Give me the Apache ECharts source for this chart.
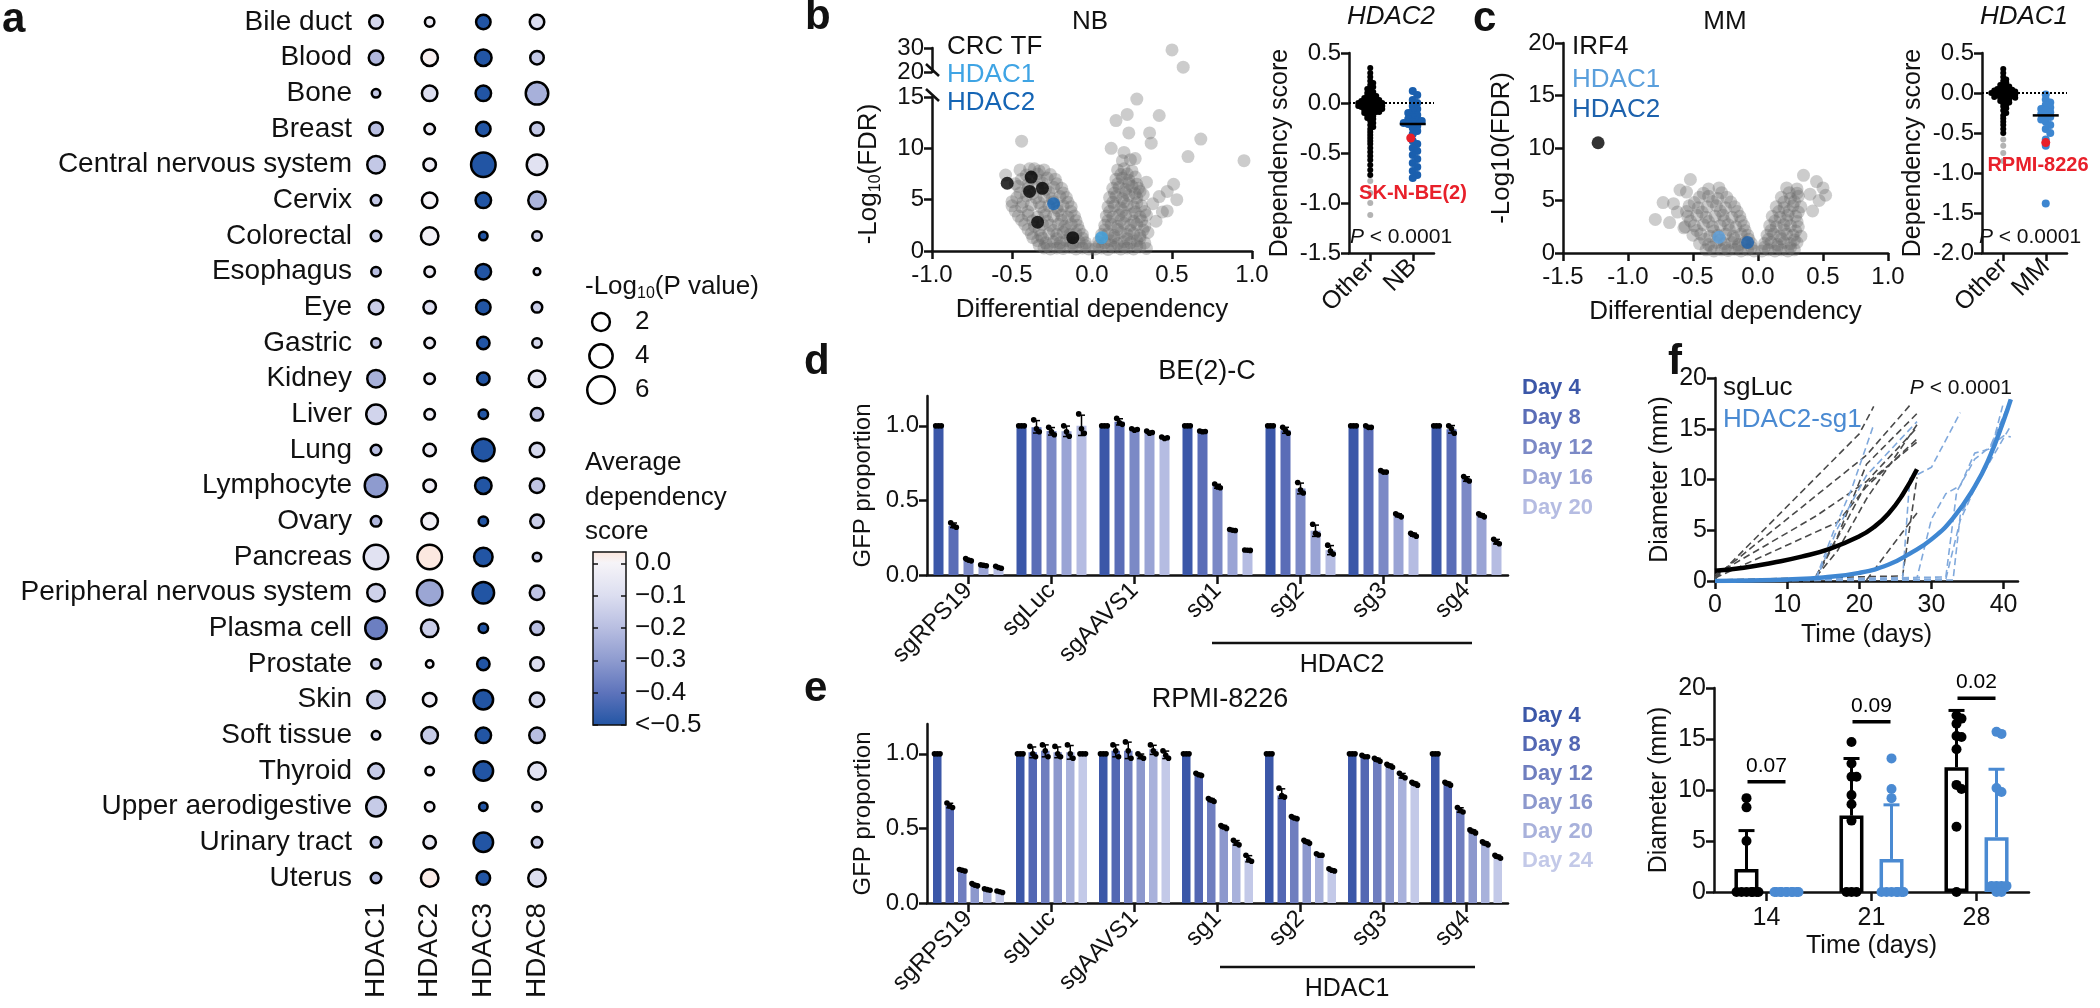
<!DOCTYPE html>
<html><head><meta charset="utf-8">
<script src="https://cdn.jsdelivr.net/npm/echarts@6/dist/echarts.min.js"></script>
<style>html,body{margin:0;padding:0;background:#fff}#c{width:2100px;height:1008px}</style>
</head><body><div id="c"></div>
<script>
// ================= DATA =================
// Panel a
const tissues = ['Bile duct','Blood','Bone','Breast','Central nervous system','Cervix','Colorectal','Esophagus','Eye','Gastric','Kidney','Liver','Lung','Lymphocyte','Ovary','Pancreas','Peripheral nervous system','Plasma cell','Prostate','Skin','Soft tissue','Thyroid','Upper aerodigestive','Urinary tract','Uterus'];
const genes = ['HDAC1','HDAC2','HDAC3','HDAC8'];
const negLogP = [
 [0.92,0.28,1.13,1.13],[1.13,1.63,1.63,0.92],[0.18,1.37,1.37,3.67],[0.92,0.41,1.13,0.92],
 [1.91,0.72,4.53,2.90],[0.41,1.37,1.37,1.91],[0.41,1.91,0.18,0.28],[0.28,0.41,1.37,0.05],
 [1.13,0.72,1.13,0.41],[0.28,0.41,0.72,0.28],[1.91,0.41,0.72,1.63],[2.55,0.41,0.28,0.72],
 [0.41,0.72,3.67,1.13],[3.67,0.72,1.63,1.13],[0.41,1.63,0.28,0.92],[4.53,4.53,2.22,0.18],
 [1.91,4.99,3.27,1.13],[3.27,1.91,0.28,0.92],[0.28,0.10,0.72,0.92],[1.91,0.92,2.55,1.13],
 [0.18,1.63,1.37,1.37],[1.37,0.18,2.55,1.91],[2.55,0.28,0.18,0.28],[0.41,0.72,2.55,0.41],
 [0.41,1.91,0.92,1.91]
];
const depScore = [
 [-0.12,-0.04,-0.62,-0.10],[-0.22,0.01,-0.62,-0.17],[-0.17,-0.10,-0.62,-0.24],[-0.20,-0.05,-0.62,-0.17],
 [-0.17,-0.03,-0.62,-0.08],[-0.17,0.00,-0.62,-0.23],[-0.17,-0.02,-0.60,-0.14],[-0.20,-0.04,-0.62,-0.12],
 [-0.15,-0.10,-0.62,-0.15],[-0.18,-0.05,-0.62,-0.12],[-0.24,-0.05,-0.62,-0.07],[-0.13,-0.03,-0.58,-0.19],
 [-0.20,-0.04,-0.62,-0.12],[-0.30,-0.03,-0.62,-0.18],[-0.22,-0.02,-0.62,-0.15],[-0.08,0.03,-0.62,-0.15],
 [-0.14,-0.27,-0.62,-0.18],[-0.37,-0.15,-0.60,-0.20],[-0.17,-0.04,-0.62,-0.10],[-0.16,-0.03,-0.62,-0.12],
 [-0.12,-0.16,-0.62,-0.20],[-0.16,-0.03,-0.62,-0.08],[-0.16,-0.03,-0.60,-0.12],[-0.20,-0.06,-0.62,-0.15],
 [-0.22,0.02,-0.62,-0.10]
];
const sizeLegendVals = [2,4,6];
const depTicks = [0,-0.1,-0.2,-0.3,-0.4,-0.5];
const depStops = [[-0.5,'#2255a4'],[-0.4,'#5d73bb'],[-0.3,'#8e9bcf'],[-0.2,'#b8bee1'],[-0.1,'#dcdef0'],[0,'#f6f4f8'],[0.035,'#fde6dc']];

// Panel b (NB)
const nbCloud = [
 [0.02,0.2],[0.06,0.3],[0.10,0.15],[0.14,0.35],[0.18,0.2],[0.22,0.3],[0.26,0.2],[0.30,0.4],[0.34,0.25],
 [0.04,0.9],[0.08,0.8],[0.12,1.0],[0.16,0.7],[0.20,0.9],[0.24,0.8],[0.28,1.0],[0.33,0.8],
 [0.06,1.6],[0.10,1.7],[0.14,1.5],[0.18,1.8],[0.22,1.6],[0.26,1.7],[0.30,1.5],[0.35,1.8],
 [0.08,2.5],[0.12,2.6],[0.16,2.4],[0.20,2.7],[0.24,2.5],[0.28,2.6],[0.33,2.4],
 [0.09,3.4],[0.13,3.3],[0.17,3.5],[0.21,3.4],[0.25,3.6],[0.30,3.3],[0.34,3.5],
 [0.10,4.3],[0.14,4.4],[0.18,4.2],[0.22,4.5],[0.26,4.3],[0.31,4.4],
 [0.11,5.2],[0.15,5.3],[0.19,5.1],[0.23,5.4],[0.28,5.2],[0.32,5.5],
 [0.13,6.1],[0.17,6.2],[0.21,6.0],[0.25,6.3],[0.29,6.1],
 [0.15,7.0],[0.19,7.1],[0.23,6.9],[0.27,7.2],[0.16,7.9],[0.20,8.0],[0.25,7.8],[0.19,8.8],[0.24,8.9],
 [0.04,0.5],[0.12,0.55],[0.20,0.45],[0.28,0.5],[0.06,1.25],[0.14,1.3],[0.22,1.2],[0.30,1.25],
 [0.08,2.05],[0.16,2.1],[0.24,2.0],[0.32,2.05],[0.10,2.95],[0.18,3.0],[0.26,2.9],[0.31,2.95],
 [0.11,3.85],[0.19,3.9],[0.27,3.8],[0.33,3.85],[0.13,4.75],[0.20,4.8],[0.28,4.7],
 [0.14,5.65],[0.21,5.7],[0.27,5.6],[0.16,6.55],[0.23,6.6],[0.28,6.5],[0.18,7.45],[0.22,7.5],
 [-0.02,0.2],[-0.06,0.3],[-0.10,0.2],[-0.14,0.35],[-0.18,0.25],[-0.22,0.3],[-0.26,0.2],[-0.30,0.3],
 [-0.04,0.8],[-0.08,0.9],[-0.12,0.8],[-0.16,1.0],[-0.20,0.8],[-0.24,0.9],[-0.29,0.8],[-0.34,1.0],
 [-0.06,1.6],[-0.10,1.7],[-0.14,1.6],[-0.18,1.8],[-0.22,1.6],[-0.27,1.7],[-0.32,1.5],[-0.38,1.7],
 [-0.09,2.5],[-0.13,2.6],[-0.17,2.4],[-0.21,2.6],[-0.26,2.5],[-0.31,2.6],[-0.36,2.4],[-0.42,2.6],
 [-0.11,3.4],[-0.15,3.3],[-0.19,3.5],[-0.24,3.4],[-0.29,3.5],[-0.34,3.3],[-0.40,3.5],[-0.46,3.4],
 [-0.13,4.3],[-0.18,4.4],[-0.22,4.2],[-0.27,4.4],[-0.32,4.3],[-0.38,4.5],[-0.44,4.3],[-0.50,4.4],
 [-0.16,5.2],[-0.20,5.3],[-0.25,5.1],[-0.30,5.3],[-0.35,5.2],[-0.41,5.4],[-0.47,5.2],
 [-0.19,6.1],[-0.24,6.2],[-0.29,6.0],[-0.34,6.2],[-0.40,6.1],[-0.46,6.3],
 [-0.23,7.0],[-0.28,7.1],[-0.33,6.9],[-0.38,7.1],[-0.44,7.0],[-0.30,7.9],[-0.36,8.0],
 [-0.04,0.5],[-0.12,0.55],[-0.20,0.45],[-0.28,0.5],[-0.33,0.55],[-0.06,1.25],[-0.14,1.3],[-0.22,1.2],[-0.31,1.25],[-0.37,1.3],
 [-0.08,2.05],[-0.16,2.1],[-0.24,2.0],[-0.33,2.05],[-0.40,2.1],[-0.10,2.95],[-0.19,3.0],[-0.28,2.9],[-0.37,2.95],[-0.44,3.0],
 [-0.13,3.85],[-0.21,3.9],[-0.30,3.8],[-0.40,3.85],[-0.48,3.9],[-0.15,4.75],[-0.24,4.8],[-0.33,4.7],[-0.43,4.75],[-0.50,4.8],
 [-0.18,5.65],[-0.27,5.7],[-0.37,5.6],[-0.45,5.65],[-0.22,6.55],[-0.31,6.6],[-0.40,6.5],[-0.48,6.55],[-0.26,7.45],[-0.34,7.5],[-0.41,7.4],
 [-0.44,10.7],[-0.54,7.4],[-0.45,7.9],[-0.39,8.0],[-0.33,7.8],
 [0.28,14.8],[0.15,12.7],[0.22,13.3],[0.42,13.2],[0.23,11.5],[0.36,11.5],[0.37,10.5],[0.68,10.9],
 [0.95,8.8],[0.60,9.2],[0.12,10.0],[0.20,9.6],[0.27,9.0],[0.51,6.5],[0.47,5.8],[0.42,5.3],[0.53,5.0],
 [0.44,3.8],[0.47,3.9],[0.34,6.7],[0.30,5.8],[0.38,4.6],[0.40,2.9]
];
const nbCloudHigh = [[0.50,29.2],[0.57,22.0]];
const nbCRC = [[-0.53,6.6],[-0.38,7.2],[-0.39,5.8],[-0.31,6.1],[-0.34,2.8],[-0.12,1.3]];
const nbHDAC1 = [[0.06,1.3]];
const nbHDAC2 = [[-0.24,4.6]];
const nbOther = [0.35,0.30,0.26,0.22,0.20,0.18,0.16,0.15,0.14,0.12,0.11,0.10,0.09,0.08,0.07,0.07,0.06,0.05,0.05,0.04,0.04,0.03,0.03,0.02,0.02,0.02,0.01,0.01,0.0,0.0,0.0,0.0,-0.01,-0.01,-0.01,-0.02,-0.02,-0.02,-0.03,-0.03,-0.03,-0.04,-0.04,-0.04,-0.05,-0.05,-0.05,-0.06,-0.06,-0.07,-0.07,-0.08,-0.08,-0.09,-0.09,-0.10,-0.10,-0.11,-0.12,-0.13,-0.14,-0.15,-0.16,-0.18,-0.20,-0.22,-0.24,-0.26,-0.29,-0.32,-0.35,-0.38,-0.41,-0.45,-0.49,-0.53,-0.57,-0.62,-0.67,-0.72];
const nbOtherOut = [-0.78,-0.90,-1.00,-1.12];
const nbNB = [0.12,0.08,0.03,0.0,-0.03,-0.06,-0.08,-0.10,-0.12,-0.14,-0.16,-0.17,-0.18,-0.19,-0.20,-0.21,-0.23,-0.25,-0.28,-0.31,-0.38,-0.41,-0.45,-0.48,-0.52,-0.56,-0.60,-0.64,-0.68,-0.72,-0.75];
const nbRed = [-0.35];

// Panel c (MM)
const mmCloud = [
 [-0.03,0.2],[-0.08,0.3],[-0.13,0.2],[-0.18,0.35],[-0.23,0.25],[-0.28,0.3],[-0.34,0.2],[-0.40,0.3],
 [-0.05,0.9],[-0.10,1.0],[-0.15,0.8],[-0.20,1.0],[-0.26,0.9],[-0.32,1.0],[-0.38,0.8],[-0.45,0.9],
 [-0.08,1.7],[-0.13,1.8],[-0.19,1.6],[-0.25,1.8],[-0.31,1.7],[-0.37,1.6],[-0.44,1.8],[-0.50,1.7],
 [-0.11,2.6],[-0.17,2.5],[-0.23,2.7],[-0.29,2.6],[-0.35,2.5],[-0.42,2.7],[-0.49,2.6],[-0.56,2.5],
 [-0.14,3.5],[-0.20,3.4],[-0.27,3.6],[-0.33,3.5],[-0.40,3.4],[-0.47,3.6],[-0.54,3.5],
 [-0.18,4.4],[-0.25,4.3],[-0.32,4.5],[-0.39,4.4],[-0.46,4.3],[-0.53,4.5],
 [-0.24,5.3],[-0.31,5.2],[-0.38,5.4],[-0.45,5.3],[-0.30,6.2],[-0.38,6.1],
 [-0.05,0.55],[-0.15,0.6],[-0.25,0.5],[-0.36,0.55],[-0.07,1.3],[-0.18,1.35],[-0.29,1.25],[-0.41,1.3],
 [-0.10,2.15],[-0.22,2.2],[-0.34,2.1],[-0.47,2.15],[-0.13,3.05],[-0.26,3.1],[-0.38,3.0],[-0.52,3.05],
 [-0.16,3.95],[-0.29,4.0],[-0.43,3.9],[-0.55,3.95],[-0.21,4.85],[-0.35,4.9],[-0.49,4.8],[-0.28,5.75],[-0.42,5.7],
 [0.03,0.2],[0.08,0.3],[0.13,0.2],[0.18,0.3],[0.23,0.2],[0.28,0.3],
 [0.05,0.9],[0.10,1.0],[0.15,0.8],[0.20,1.0],[0.25,0.9],[0.30,1.0],
 [0.07,1.7],[0.12,1.8],[0.17,1.6],[0.22,1.8],[0.27,1.7],[0.33,1.6],
 [0.09,2.6],[0.14,2.5],[0.20,2.7],[0.25,2.6],[0.31,2.5],
 [0.11,3.5],[0.17,3.4],[0.23,3.6],[0.29,3.5],
 [0.14,4.4],[0.20,4.3],[0.27,4.5],[0.33,4.4],
 [0.18,5.3],[0.25,5.2],[0.31,5.4],[0.22,6.2],[0.30,6.1],
 [0.05,0.55],[0.15,0.6],[0.25,0.5],[0.08,1.3],[0.18,1.35],[0.28,1.25],[0.10,2.15],[0.20,2.2],[0.29,2.1],
 [0.13,3.05],[0.22,3.1],[0.30,3.0],[0.16,3.95],[0.24,4.0],[0.31,3.9],[0.20,4.85],[0.28,4.9],[0.24,5.75],[0.30,5.7],
 [-0.79,3.2],[-0.73,4.8],[-0.65,4.7],[-0.62,3.9],[-0.57,2.4],[-0.60,6.0],[-0.55,5.8],[-0.52,7.0],[-0.68,2.9],
 [0.35,7.4],[0.45,6.8],[0.50,6.2],[0.52,5.5],[0.40,5.6],[0.47,5.0],[0.42,4.0]
];
const mmIRF4 = [[-1.23,10.5]];
const mmHDAC1 = [[-0.30,1.5]];
const mmHDAC2 = [[-0.08,1.0]];
const mmOther = [0.30,0.25,0.20,0.17,0.15,0.13,0.11,0.10,0.09,0.08,0.07,0.06,0.05,0.05,0.04,0.04,0.03,0.03,0.02,0.02,0.01,0.01,0.0,0.0,0.0,-0.01,-0.01,-0.02,-0.02,-0.03,-0.03,-0.04,-0.04,-0.05,-0.05,-0.06,-0.06,-0.07,-0.08,-0.09,-0.10,-0.11,-0.12,-0.13,-0.15,-0.17,-0.19,-0.22,-0.25,-0.28,-0.32,-0.36,-0.40,-0.45,-0.50];
const mmOtherOut = [-0.58,-0.66,-0.75,-0.85];
const mmMM = [-0.02,-0.08,-0.12,-0.15,-0.18,-0.20,-0.22,-0.24,-0.26,-0.28,-0.30,-0.33,-0.36,-0.40,-0.45,-0.50,-0.58,-0.66,-1.38];
const mmRed = [-0.62];

// Panels d / e
const guides = ['sgRPS19','sgLuc','sgAAVS1','sg1','sg2','sg3','sg4'];
const beDays = ['Day 4','Day 8','Day 12','Day 16','Day 20'];
const rpDays = ['Day 4','Day 8','Day 12','Day 16','Day 20','Day 24'];
const beMeans = [
 [1.0,0.33,0.10,0.065,0.05],[1.0,0.99,0.965,0.963,1.0],[1.0,1.027,0.975,0.955,0.92],
 [1.0,0.962,0.595,0.301,0.166],[1.0,0.97,0.58,0.297,0.167],[1.0,0.993,0.693,0.40,0.27],[1.0,0.977,0.643,0.40,0.223]
];
const beReps = [
 [[1,1,1],[0.35,0.33,0.32],[0.11,0.10,0.095],[0.068,0.065,0.062],[0.058,0.05,0.045]],
 [[1,1,1],[1.04,0.98,0.96],[0.99,0.96,0.94],[1.0,0.96,0.93],[1.08,0.98,0.95]],
 [[1,1,1],[1.05,1.02,1.01],[0.98,0.97,0.975],[0.965,0.95,0.955],[0.925,0.915,0.92]],
 [[1,1,1],[0.965,0.96,0.962],[0.61,0.59,0.585],[0.305,0.30,0.298],[0.168,0.166,0.165]],
 [[1,1,1],[0.99,0.97,0.95],[0.62,0.57,0.55],[0.34,0.28,0.27],[0.20,0.16,0.14]],
 [[1,1,1],[1.0,0.99,0.99],[0.70,0.69,0.69],[0.41,0.40,0.39],[0.28,0.27,0.26]],
 [[1,1,1],[1.0,0.98,0.95],[0.66,0.64,0.63],[0.41,0.40,0.39],[0.24,0.22,0.21]]
];
const rpMeans = [
 [1.0,0.65,0.22,0.12,0.09,0.075],[1.0,1.01,1.02,1.01,1.01,1.0],[1.0,1.02,1.02,0.98,1.03,0.99],
 [1.0,0.86,0.69,0.51,0.40,0.29],[1.0,0.72,0.57,0.41,0.32,0.22],[1.0,0.98,0.96,0.92,0.85,0.80],[1.0,0.80,0.62,0.48,0.40,0.31]
];
const rpReps = [
 [[1,1,1],[0.67,0.65,0.64],[0.225,0.22,0.215],[0.13,0.12,0.115],[0.095,0.09,0.085],[0.08,0.075,0.07]],
 [[1,1,1],[1.05,1.0,0.98],[1.06,1.02,0.98],[1.05,1.0,0.98],[1.06,1.0,0.97],[1.0,1.0,1.0]],
 [[1,1,1],[1.06,1.02,0.98],[1.08,1.02,0.97],[1.0,0.98,0.97],[1.06,1.02,1.0],[1.02,0.99,0.97]],
 [[1,1,1],[0.87,0.86,0.855],[0.70,0.69,0.68],[0.52,0.51,0.50],[0.42,0.40,0.39],[0.32,0.29,0.28]],
 [[1,1,1],[0.77,0.72,0.71],[0.58,0.57,0.565],[0.42,0.41,0.40],[0.33,0.32,0.32],[0.23,0.22,0.215]],
 [[1,1,1],[0.99,0.98,0.98],[0.97,0.96,0.95],[0.93,0.92,0.91],[0.87,0.85,0.84],[0.81,0.80,0.79]],
 [[1,1,1],[0.81,0.80,0.79],[0.64,0.62,0.61],[0.49,0.48,0.47],[0.41,0.40,0.39],[0.32,0.31,0.30]]
];

// Panel f
const sgLucLines = [
 [[0,0.2],[20,14.5],[22,17.2]],
 [[0,0.4],[21,12.4],[27,17.3]],
 [[0,0.6],[14,6.4],[21,9.8],[28,15.1]],
 [[0,0.3],[17,5.8],[21,9.3],[28,14.0]],
 [[14,0.5],[17,4.4],[21,11.5],[28,16.5]],
 [[14,0.3],[18,5.6],[21,9.6],[28,13.7]],
 [[14,0.4],[17,3.0],[21,8.1],[28,15.4]],
 [[21,0.1],[28,6.7]],
 [[0,0.1],[26,0.5],[28,10.2]]
];
const sg1Lines = [
 [[14,0.3],[16.5,5.0],[19,9.2],[22,15.4]],
 [[14,0.1],[17,5.2],[21,10.4],[28,15.7]],
 [[0,0],[26,0.2],[27,10.1],[30,11.2],[34,16.6]],
 [[0,0],[28,0.3],[30,6.1],[32,8.6],[34,9.4],[36,12.6],[38,13.0],[41,17.9]],
 [[0,0],[32,0.4],[33.5,8.8],[36,12.0],[40,14.3],[41,14.2]],
 [[0,0],[32,0.2],[34,6.0],[38,12.2],[40,17.6]],
 [[0,0],[33,0.1],[34,6.5],[37,10.4],[41,15.3]]
];
const sgLucFit = [[0,1.0],[4,1.3],[8,1.8],[12,2.4],[16,3.2],[20,4.4],[22,5.3],[24,6.6],[26,8.5],[28,11.0]];
const sg1Fit = [[0,0],[5,0.05],[10,0.15],[15,0.35],[20,0.8],[24,1.6],[27,2.7],[30,4.1],[33,6.2],[36,9.3],[38,12.1],[40,15.8],[41,17.9]];
const fDays = ['14','21','28'];
const fLucPts = [
 [9.2,8.3,5.0,0,0,0,0,0,0,0],
 [14.7,12.6,11.3,11.3,9.5,8.6,7.0,0,0,0],
 [17.3,17.0,16.5,15.3,15.2,14.0,10.5,10.1,6.4,0]
];
const fSg1Pts = [
 [0,0,0,0,0,0,0,0,0,0],
 [13.1,10.1,9.2,0,0,0,0,0,0,0],
 [15.7,15.5,10.2,9.8,0.6,0.6,0.6,0.6,0,0]
];
const fPvals = ['0.07','0.09','0.02'];
const fPvalY = [10.8,16.7,19.0];

// ================= HELPERS =================
const FF = '"Liberation Sans", Arial, Helvetica, sans-serif';
const BLK = '#111';
const C_H1b = '#3fa4e4', C_H2b = '#1565b5', C_H1c = '#5a9fdc', C_H2c = '#1d62ad', C_RED = '#e8202a', C_F = '#4a8ad2';
const dCols = ['#3b57a8','#5a6db7','#7b89c6','#9aa4d5','#b5bce2'];
const eCols = ['#3b57a8','#5367b3','#6f7ebf','#8c98cd','#a8b1db','#c3c9e8'];

function deep(a,b){const o=Object.assign({},a);for(const k in b){const bv=b[k],av=a[k];if(bv&&typeof bv==='object'&&!Array.isArray(bv)&&av&&typeof av==='object'&&!Array.isArray(av))o[k]=deep(av,bv);else o[k]=bv;}return o;}
const axBase = {
  splitLine:{show:false},
  axisLine:{show:true,onZero:false,lineStyle:{color:BLK,width:2.5}},
  axisTick:{show:true,inside:false,length:8,lineStyle:{color:BLK,width:2.5}},
  axisLabel:{color:BLK,fontSize:24,fontFamily:FF},
  nameTextStyle:{color:BLK,fontSize:25,fontFamily:FF}
};
function vAx(gi,o){return deep(deep(axBase,{type:'value',gridIndex:gi}),o||{});}
function cAx(gi,o){return deep(deep(axBase,{type:'category',gridIndex:gi}),o||{});}
const grids=[],xAxes=[],yAxes=[],series=[];
const addGrid=g=>{grids.push(g);return grids.length-1;};
const addX=a=>{xAxes.push(a);return xAxes.length-1;};
const addY=a=>{yAxes.push(a);return yAxes.length-1;};
const f1 = v => v.toFixed(1);

function hex2rgb(h){return [parseInt(h.slice(1,3),16),parseInt(h.slice(3,5),16),parseInt(h.slice(5,7),16)];}
function scoreColor(v){
  v=Math.max(depStops[0][0],Math.min(depStops[depStops.length-1][0],v));
  for(let i=0;i<depStops.length-1;i++){const a=depStops[i],b=depStops[i+1];
    if(v>=a[0]&&v<=b[0]){const t=(v-a[0])/(b[0]-a[0]);const ca=hex2rgb(a[1]),cb=hex2rgb(b[1]);
      return 'rgb('+ca.map((c,k)=>Math.round(c+(cb[k]-c)*t)).join(',')+')';}}
  return depStops[0][1];
}
const bubbleSize = v => 4.5 + 9.4*Math.sqrt(v);

function swarm(ys,sp,maxHalf){
  const n=ys.length,order=ys.map((y,i)=>i).sort((a,b)=>ys[a]-ys[b]);
  const placed=[],off=new Array(n).fill(0);
  order.forEach((i,idx)=>{const y=ys[i];let chosen=null;
    for(let k=0;k<80;k++){const c=k===0?0:(k%2?1:-1)*Math.ceil(k/2)*sp;
      if(Math.abs(c)>maxHalf)break;
      let ok=true;for(const p of placed){if(Math.abs(p[1]-y)<sp&&Math.abs(p[0]-c)<sp){ok=false;break;}}
      if(ok){chosen=c;break;}}
    if(chosen===null){chosen=((idx%5)-2)*maxHalf/2;}
    off[i]=chosen;placed.push([chosen,y]);});
  return off;
}
function swarmSeries(xi,yi,values,catIdx,opt){
  let offs=null;
  return {type:'custom',xAxisIndex:xi,yAxisIndex:yi,z:opt.z||4,silent:true,
    data:values.map(v=>[catIdx,v]),
    renderItem(params,api){
      if(params.dataIndex===0||!offs){const ys=values.map(v=>api.coord([catIdx,v])[1]);offs=swarm(ys,opt.spacing,opt.maxHalf);}
      const p=api.coord([api.value(0),api.value(1)]);
      return {type:'circle',shape:{cx:p[0]+(opt.shift||0)+offs[params.dataIndex],cy:p[1],r:opt.size/2},style:{fill:opt.color}};
    }};
}
function medianOf(a){const s=a.slice().sort((x,y)=>x-y);const m=Math.floor(s.length/2);return s.length%2?s[m]:(s[m-1]+s[m])/2;}
function medianSeries(xi,yi,values,catIdx,half){
  return {type:'custom',xAxisIndex:xi,yAxisIndex:yi,z:6,silent:true,data:[[catIdx,medianOf(values)]],
    renderItem(params,api){const p=api.coord([api.value(0),api.value(1)]);
      return {type:'line',shape:{x1:p[0]-half,y1:p[1],x2:p[0]+half,y2:p[1]},style:{stroke:'#000',lineWidth:2.5}};}};
}
function repSeries(xi,yi,means,reps,di,nDays,step){
  return {type:'custom',xAxisIndex:xi,yAxisIndex:yi,z:5,silent:true,
    data:means.map((g,gi)=>[gi,g[di],reps[gi][di][0],reps[gi][di][1],reps[gi][di][2]]),
    renderItem(params,api){
      const gi=api.value(0);const r=[api.value(2),api.value(3),api.value(4)];
      const m=(r[0]+r[1]+r[2])/3;const sd=Math.sqrt(r.reduce((s,v)=>s+(v-m)*(v-m),0)/2);
      const x=api.coord([gi,m])[0]+(di-(nDays-1)/2)*step;
      const yt=api.coord([gi,m+sd])[1],yb=api.coord([gi,m-sd])[1];
      const ch=[];
      if(yb-yt>2){ch.push({type:'line',shape:{x1:x,y1:yt,x2:x,y2:yb},style:{stroke:'#000',lineWidth:1.5}});
        ch.push({type:'line',shape:{x1:x-3.5,y1:yt,x2:x+3.5,y2:yt},style:{stroke:'#000',lineWidth:1.5}});
        ch.push({type:'line',shape:{x1:x-3.5,y1:yb,x2:x+3.5,y2:yb},style:{stroke:'#000',lineWidth:1.5}});}
      r.forEach((v,k)=>{const y=api.coord([gi,v])[1];ch.push({type:'circle',shape:{cx:x+(k-1)*2.8,cy:y,r:2.8},style:{fill:'#000'}});});
      return {type:'group',children:ch};
    }};
}

// ================= PANEL a =================
const gA=addGrid({left:376,top:22,width:161,height:856});
const xA=addX(cAx(gA,{data:genes,boundaryGap:false,axisLine:{show:false},axisTick:{show:false},axisLabel:{rotate:90,margin:25,fontSize:28,interval:0}}));
const yA=addY(cAx(gA,{data:tissues,inverse:true,boundaryGap:false,axisLine:{show:false},axisTick:{show:false},axisLabel:{margin:24,fontSize:28,interval:0}}));
const bubbleData=[];
tissues.forEach((t,ti)=>genes.forEach((g,gi)=>bubbleData.push([gi,ti,negLogP[ti][gi],depScore[ti][gi]])));
series.push({type:'scatter',xAxisIndex:xA,yAxisIndex:yA,silent:true,data:bubbleData,
  symbolSize:v=>bubbleSize(v[2]),
  itemStyle:{opacity:1,borderColor:'#000',borderWidth:2.5,color:p=>scoreColor(p.value[3])}});

// colour bar
const cbTop=0.035,cbMin=-0.5;
const cbGrad={type:'linear',x:0,y:0,x2:0,y2:1,colorStops:depStops.slice().reverse().map(s=>({offset:(cbTop-s[0])/(cbTop-cbMin),color:s[1]}))};
const gCB=addGrid({left:593,top:552,width:33,height:173,show:true,borderColor:BLK,borderWidth:1.5,backgroundColor:cbGrad});
addX(vAx(gCB,{show:false,min:0,max:1}));
const isTick=v=>depTicks.some(t=>Math.abs(t-v)<1e-6);
const cbFmt=v=>{if(!isTick(v))return '';const r=Math.round(v*10)/10;if(r===-0.5)return '<\u22120.5';if(r===0)return '0.0';return '\u2212'+Math.abs(r).toFixed(1);};
addY(vAx(gCB,{min:cbMin,max:cbTop,position:'left',axisLine:{show:false},axisTick:{inside:true,length:5,lineStyle:{width:1.5},customValues:depTicks},axisLabel:{show:false}}));
addY(vAx(gCB,{min:cbMin,max:cbTop,position:'right',axisLine:{show:false},axisTick:{inside:true,length:5,lineStyle:{width:1.5},customValues:depTicks},axisLabel:{customValues:depTicks,margin:9,fontSize:26,formatter:cbFmt}}));

// size legend
const gSL=addGrid({left:601,top:322,width:1,height:68});
const xSL=addX(vAx(gSL,{show:false,min:0,max:1}));
const ySL=addY(cAx(gSL,{data:sizeLegendVals.map(String),inverse:true,boundaryGap:false,position:'right',axisLine:{show:false},axisTick:{show:false},axisLabel:{margin:33,fontSize:26}}));
series.push({type:'scatter',xAxisIndex:xSL,yAxisIndex:ySL,silent:true,data:sizeLegendVals.map((v,i)=>[0,i,v]),
  symbolSize:v=>bubbleSize(v[2]),itemStyle:{opacity:1,color:'#fff',borderColor:'#000',borderWidth:2.5}});

// ================= PANEL b =================
const subRich={m:{fontSize:26,fontFamily:FF,color:BLK,verticalAlign:'middle',lineHeight:30},s:{fontSize:16,fontFamily:FF,color:BLK,verticalAlign:'bottom',lineHeight:16}};
const gB=addGrid({left:932,top:97,width:320,height:154});
const xB=addX(vAx(gB,{min:-1,max:1,interval:0.5,axisLabel:{formatter:f1,margin:12},name:'Differential dependency',nameLocation:'middle',nameGap:46,nameTextStyle:{fontSize:26}}));
const yB=addY(vAx(gB,{min:0,max:15,interval:5,name:'{m|-Log}{s|10}{m|(FDR)}',nameLocation:'middle',nameGap:48,nameTextStyle:{rich:subRich}}));
const gB2=addGrid({left:932,top:48,width:320,height:24});
const xB2=addX(vAx(gB2,{show:false,min:-1,max:1}));
const yB2=addY(vAx(gB2,{min:20,max:30,interval:10}));
const volStyle={color:'rgba(105,105,105,0.42)'};
const VS=13;
series.push({type:'scatter',xAxisIndex:xB,yAxisIndex:yB,silent:true,data:nbCloud,symbolSize:VS,itemStyle:volStyle});
series.push({type:'scatter',xAxisIndex:xB2,yAxisIndex:yB2,silent:true,data:nbCloudHigh,symbolSize:VS,itemStyle:volStyle});
series.push({type:'scatter',xAxisIndex:xB,yAxisIndex:yB,silent:true,data:nbCRC,symbolSize:13,itemStyle:{color:'#000'},z:5});
series.push({type:'scatter',xAxisIndex:xB,yAxisIndex:yB,silent:true,data:nbHDAC1,symbolSize:13,itemStyle:{color:C_H1b},z:5});
series.push({type:'scatter',xAxisIndex:xB,yAxisIndex:yB,silent:true,data:nbHDAC2,symbolSize:13,itemStyle:{color:C_H2b},z:5});

// b inset
const gBi=addGrid({left:1349,top:53,width:85,height:200});
const xBiV=addX(vAx(gBi,{show:false,position:'top',min:-0.5,max:1.5}));
addX(cAx(gBi,{position:'bottom',data:['Other','NB'],axisTick:{alignWithLabel:true},axisLabel:{rotate:45,margin:10,fontSize:25,interval:0}}));
const yBi=addY(vAx(gBi,{min:-1.5,max:0.5,interval:0.5,axisLabel:{formatter:f1},name:'Dependency score',nameLocation:'middle',nameGap:56}));
series.push({type:'scatter',xAxisIndex:xBiV,yAxisIndex:yBi,silent:true,data:nbOtherOut.map(v=>[0,v]),symbolSize:6,itemStyle:{color:'#a0a0a0'},
  markLine:{silent:true,symbol:'none',label:{show:false},lineStyle:{type:'dotted',color:'#000',width:2},data:[{yAxis:0}]}});
series.push(swarmSeries(xBiV,yBi,nbOther,0,{size:6,spacing:3,maxHalf:12,color:'#000'}));
series.push(swarmSeries(xBiV,yBi,nbNB,1,{size:8,spacing:4.5,maxHalf:13,color:'#1a5fae'}));
series.push(medianSeries(xBiV,yBi,nbNB,1,13));
series.push(swarmSeries(xBiV,yBi,nbRed,1,{size:9,spacing:4,maxHalf:6,color:C_RED,z:7,shift:-2}));

// ================= PANEL c =================
const gC=addGrid({left:1563,top:43,width:325,height:210});
const xC=addX(vAx(gC,{min:-1.5,max:1.0,interval:0.5,axisLabel:{formatter:f1,margin:12},name:'Differential dependency',nameLocation:'middle',nameGap:46,nameTextStyle:{fontSize:26}}));
const yC=addY(vAx(gC,{min:0,max:20,interval:5,name:'-Log10(FDR)',nameLocation:'middle',nameGap:48,nameTextStyle:{fontSize:26}}));
series.push({type:'scatter',xAxisIndex:xC,yAxisIndex:yC,silent:true,data:mmCloud,symbolSize:VS,itemStyle:volStyle});
series.push({type:'scatter',xAxisIndex:xC,yAxisIndex:yC,silent:true,data:mmIRF4,symbolSize:13,itemStyle:{color:'#000'},z:5});
series.push({type:'scatter',xAxisIndex:xC,yAxisIndex:yC,silent:true,data:mmHDAC1,symbolSize:13,itemStyle:{color:C_H1c},z:5});
series.push({type:'scatter',xAxisIndex:xC,yAxisIndex:yC,silent:true,data:mmHDAC2,symbolSize:13,itemStyle:{color:C_H2c},z:5});

const gCi=addGrid({left:1982,top:53,width:85,height:200});
const xCiV=addX(vAx(gCi,{show:false,position:'top',min:-0.5,max:1.5}));
addX(cAx(gCi,{position:'bottom',data:['Other','MM'],axisTick:{alignWithLabel:true},axisLabel:{rotate:45,margin:10,fontSize:25,interval:0}}));
const yCi=addY(vAx(gCi,{min:-2,max:0.5,interval:0.5,axisLabel:{formatter:f1},name:'Dependency score',nameLocation:'middle',nameGap:56}));
series.push({type:'scatter',xAxisIndex:xCiV,yAxisIndex:yCi,silent:true,data:mmOtherOut.map(v=>[0,v]),symbolSize:6,itemStyle:{color:'#a0a0a0'},
  markLine:{silent:true,symbol:'none',label:{show:false},lineStyle:{type:'dotted',color:'#000',width:2},data:[{yAxis:0}]}});
series.push(swarmSeries(xCiV,yCi,mmOther,0,{size:6,spacing:3,maxHalf:12,color:'#000'}));
series.push(swarmSeries(xCiV,yCi,mmMM,1,{size:8,spacing:4.5,maxHalf:13,color:'#3d86d0'}));
series.push(medianSeries(xCiV,yCi,mmMM,1,13));
series.push(swarmSeries(xCiV,yCi,mmRed,1,{size:9,spacing:4,maxHalf:6,color:C_RED,z:7}));

// ================= PANELS d / e =================
function barPanel(top,means,reps,days,cols,bw,gap,step){
  const g=addGrid({left:927,top:top,width:581,height:179});
  const x=addX(cAx(g,{data:guides,axisTick:{alignWithLabel:true,length:9},axisLabel:{rotate:45,margin:12,fontSize:24,interval:0}}));
  const y=addY(vAx(g,{min:0,max:1.2,interval:0.5,axisTick:{customValues:[0,0.5,1]},axisLabel:{customValues:[0,0.5,1],formatter:v=>[0,0.5,1].indexOf(v)>=0?f1(v):''},name:'GFP proportion',nameLocation:'middle',nameGap:52,nameTextStyle:{fontSize:24}}));
  days.forEach((d,di)=>series.push({type:'bar',name:d,xAxisIndex:x,yAxisIndex:y,silent:true,barWidth:bw,barGap:gap,data:means.map(m=>m[di]),itemStyle:{color:cols[di]},z:2}));
  days.forEach((d,di)=>series.push(repSeries(x,y,means,reps,di,days.length,step)));
}
barPanel(396,beMeans,beReps,beDays,dCols,10,'50%',15);
barPanel(724,rpMeans,rpReps,rpDays,eCols,8.5,'47%',12.5);

// ================= PANEL f =================
const gF=addGrid({left:1715,top:378,width:303,height:203});
const xF=addX(vAx(gF,{min:0,max:42,interval:10,axisTick:{customValues:[0,10,20,30,40]},axisLabel:{customValues:[0,10,20,30,40],fontSize:25,margin:12},name:'Time (days)',nameLocation:'middle',nameGap:42}));
const yF=addY(vAx(gF,{min:0,max:20,interval:5,axisLabel:{fontSize:25},name:'Diameter (mm)',nameLocation:'middle',nameGap:42}));
sgLucLines.forEach(l=>series.push({type:'line',xAxisIndex:xF,yAxisIndex:yF,silent:true,data:l,showSymbol:false,lineStyle:{type:[7,4],color:'#4a4a4a',width:1.6},z:2}));
sg1Lines.forEach(l=>series.push({type:'line',xAxisIndex:xF,yAxisIndex:yF,silent:true,data:l,showSymbol:false,lineStyle:{type:[7,4],color:'#80a9dc',width:1.6},z:2}));
series.push({type:'line',xAxisIndex:xF,yAxisIndex:yF,silent:true,data:sgLucFit,smooth:true,showSymbol:false,lineStyle:{color:'#000',width:4.5},z:4});
series.push({type:'line',xAxisIndex:xF,yAxisIndex:yF,silent:true,data:sg1Fit,smooth:true,showSymbol:false,lineStyle:{color:'#3f87d2',width:4.5},z:4});

const gF2=addGrid({left:1714,top:688,width:315,height:204});
const xF2=addX(cAx(gF2,{data:fDays,axisTick:{alignWithLabel:true,length:9},axisLabel:{fontSize:25,margin:14},name:'Time (days)',nameLocation:'middle',nameGap:42}));
const yF2=addY(vAx(gF2,{min:0,max:20,interval:5,axisLabel:{fontSize:25},name:'Diameter (mm)',nameLocation:'middle',nameGap:42}));
const meanOf=a=>a.reduce((s,v)=>s+v,0)/a.length;
const sdOf=a=>{const m=meanOf(a);return Math.sqrt(a.reduce((s,v)=>s+(v-m)*(v-m),0)/(a.length-1));};
[[fLucPts,'#000','sgLuc'],[fSg1Pts,C_F,'HDAC2-sg1']].forEach(([pts,col,nm])=>{
  series.push({type:'bar',name:nm,xAxisIndex:xF2,yAxisIndex:yF2,silent:true,barWidth:24,barGap:'67%',data:pts.map(meanOf),itemStyle:{color:'#fff',borderColor:col,borderWidth:3.5},z:2});
});
[[fLucPts,'#000',-20],[fSg1Pts,C_F,20]].forEach(([pts,col,sh])=>{
  series.push({type:'custom',xAxisIndex:xF2,yAxisIndex:yF2,silent:true,z:3,data:pts.map((p,i)=>[i,meanOf(p),meanOf(p)+sdOf(p)]),
    renderItem(params,api){const x=api.coord([api.value(0),0])[0]+sh;const y1=api.coord([0,api.value(1)])[1],y2=api.coord([0,api.value(2)])[1];
      if(y1-y2<1)return null;
      return {type:'group',children:[{type:'line',shape:{x1:x,y1:y1,x2:x,y2:y2},style:{stroke:col,lineWidth:3}},{type:'line',shape:{x1:x-8,y1:y2,x2:x+8,y2:y2},style:{stroke:col,lineWidth:3}}]};}});
  pts.forEach((p,i)=>series.push(swarmSeries(xF2,yF2,p,i,{size:10,spacing:5,maxHalf:12,color:col,shift:sh,z:5})));
});
series.push({type:'custom',xAxisIndex:xF2,yAxisIndex:yF2,silent:true,z:6,data:fPvalY.map((y,i)=>[i,y]),
  renderItem(params,api){const p=api.coord([api.value(0),api.value(1)]);const lab=fPvals[params.dataIndex];
    return {type:'group',children:[{type:'line',shape:{x1:p[0]-19,y1:p[1],x2:p[0]+19,y2:p[1]},style:{stroke:'#000',lineWidth:3.5}},
      {type:'text',style:{text:lab,x:p[0],y:p[1]-5,textAlign:'center',textVerticalAlign:'bottom',align:'center',verticalAlign:'bottom',font:'21px '+FF,fill:'#000'}}]};}});

// ================= TEXT =================
function T(x,y,text,o){o=o||{};const al=o.align||'left';
  const st={text:text,fill:o.color||BLK,font:(o.font||'')+' '+(o.size||26)+'px '+FF,textAlign:al,align:al,textVerticalAlign:'middle',verticalAlign:'middle'};
  if(o.rich)st.rich=o.rich;
  return {type:'text',x:x,y:y,silent:true,z:100,style:st};}
const pRich={i:{fontStyle:'italic',fontSize:21,fontFamily:FF,fill:BLK},m:{fontSize:21,fontFamily:FF,fill:BLK}};
const graphic=[
  T(2,20,'a',{font:'bold',size:42}),
  T(805,17,'b',{font:'bold',size:42}),
  T(1473,19,'c',{font:'bold',size:42}),
  T(804,362,'d',{font:'bold',size:42}),
  T(804,689,'e',{font:'bold',size:42}),
  T(1668,362,'f',{font:'bold',size:42}),
  T(585,287,'{m|-Log}{s|10}{m|(P value)}',{rich:{m:{fontSize:26,fontFamily:FF,fill:BLK,verticalAlign:'middle',lineHeight:30},s:{fontSize:16,fontFamily:FF,fill:BLK,verticalAlign:'bottom',lineHeight:16}}}),
  T(585,463,'Average',{size:26}),T(585,498,'dependency',{size:26}),T(585,532,'score',{size:26}),
  T(1090,22,'NB',{align:'center'}),
  T(1391,17,'HDAC2',{align:'center',font:'italic'}),
  T(947,47,'CRC TF'),T(947,75,'HDAC1',{color:C_H1b}),T(947,103,'HDAC2',{color:C_H2b}),
  T(1413,193,'SK-N-BE(2)',{align:'center',font:'bold',size:20,color:C_RED}),
  T(1401,237,'{i|P}{m| < 0.0001}',{align:'center',rich:pRich}),
  T(1725,22,'MM',{align:'center'}),
  T(2024,17,'HDAC1',{align:'center',font:'italic'}),
  T(1572,47,'IRF4'),T(1572,80,'HDAC1',{color:C_H1c}),T(1572,110,'HDAC2',{color:C_H2c}),
  T(2038,165,'RPMI-8226',{align:'center',font:'bold',size:20,color:C_RED}),
  T(2030,237,'{i|P}{m| < 0.0001}',{align:'center',rich:pRich}),
  T(1207,372,'BE(2)-C',{align:'center',size:27}),
  T(1220,700,'RPMI-8226',{align:'center',size:27}),
  {type:'line',silent:true,shape:{x1:1212,y1:643,x2:1472,y2:643},style:{stroke:BLK,lineWidth:2.5}},
  T(1342,665,'HDAC2',{align:'center',size:25}),
  {type:'line',silent:true,shape:{x1:1220,y1:967,x2:1475,y2:967},style:{stroke:BLK,lineWidth:2.5}},
  T(1347,989,'HDAC1',{align:'center',size:25}),
  {type:'line',silent:true,shape:{x1:926,y1:64,x2:939,y2:76},style:{stroke:BLK,lineWidth:2.5}},
  {type:'line',silent:true,shape:{x1:926,y1:89,x2:939,y2:101},style:{stroke:BLK,lineWidth:2.5}},
  T(1723,388,'sgLuc'),T(1723,420,'HDAC2-sg1',{color:C_F}),
  T(2012,388,'{i|P}{m| < 0.0001}',{align:'right',rich:pRich})
];
beDays.forEach((d,i)=>graphic.push(T(1522,388+i*30,d,{font:'bold',size:22,color:dCols[i]})));
rpDays.forEach((d,i)=>graphic.push(T(1522,716+i*29,d,{font:'bold',size:22,color:eCols[i]})));

const chart=echarts.init(document.getElementById('c'),null,{renderer:'canvas',width:2100,height:1008});
chart.setOption({animation:false,backgroundColor:'#fff',textStyle:{fontFamily:FF},
  grid:grids,xAxis:xAxes,yAxis:yAxes,series:series,graphic:graphic});
</script></body></html>
